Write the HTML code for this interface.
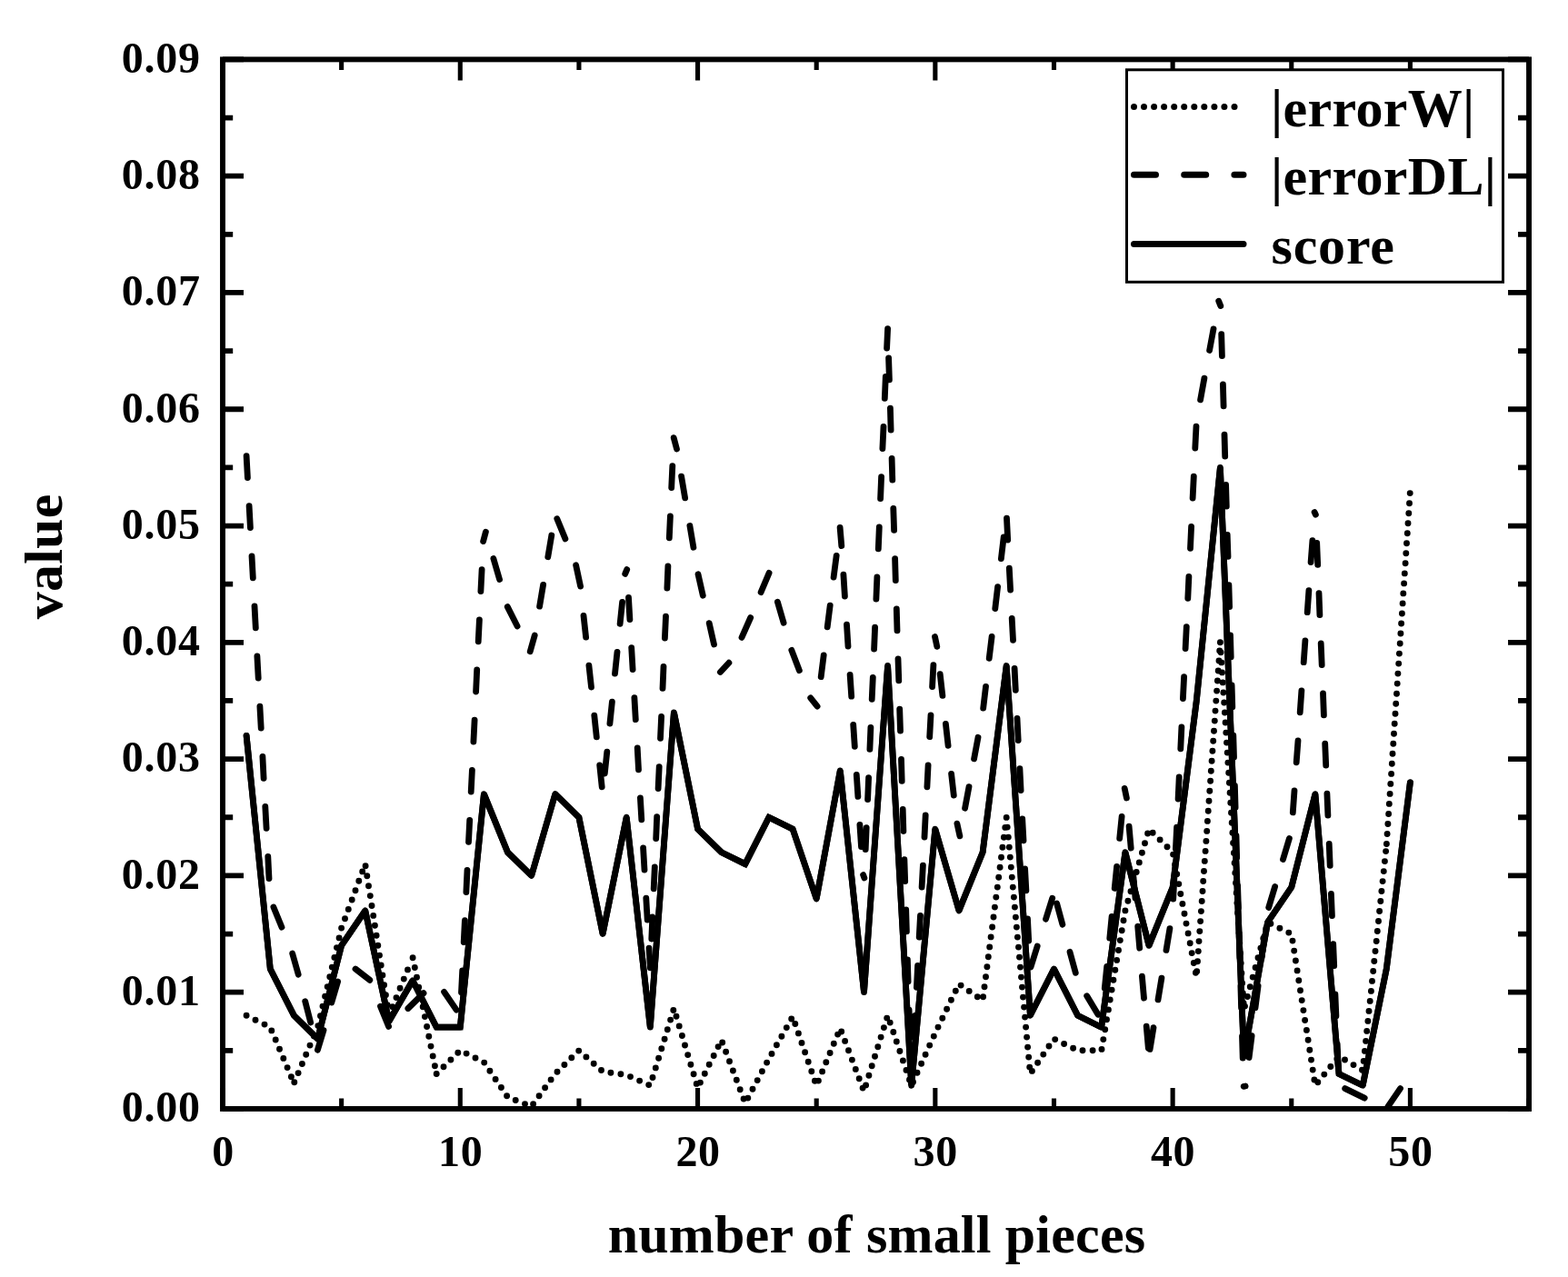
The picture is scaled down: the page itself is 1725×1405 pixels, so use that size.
<!DOCTYPE html>
<html lang="en">
<head>
<meta charset="utf-8">
<title>value vs number of small pieces</title>
<style>
html,body{margin:0;padding:0;background:#fff;}
body{width:1725px;height:1405px;overflow:hidden;font-family:"Liberation Serif","Times New Roman",Times,serif;}
svg{display:block;}
</style>
</head>
<body>
<svg width="1725" height="1405" viewBox="0 0 1725 1405">
<rect x="0" y="0" width="1725" height="1405" fill="#fff"/>
<defs><clipPath id="plotclip"><rect x="245.0" y="65.4" width="1437.05" height="1154.55"/></clipPath></defs>
<g clip-path="url(#plotclip)" fill="none" stroke="#000">
<path d="M271.1 1117.3h.01M281.0 1122.2h.01M291.0 1127.1h.01M298.8 1133.9h.01M303.2 1144.0h.01M307.5 1154.2h.01M311.8 1164.4h.01M316.1 1174.6h.01M320.4 1184.7h.01M323.8 1190.8h.01M328.1 1180.6h.01M332.4 1170.5h.01M336.7 1160.3h.01M341.0 1150.1h.01M345.4 1139.9h.01M349.9 1128.6h.01M352.5 1117.8h.01M355.0 1107.1h.01M357.6 1096.3h.01M360.2 1085.6h.01M362.8 1074.8h.01M365.3 1064.1h.01M367.9 1053.4h.01M370.5 1042.6h.01M373.1 1031.9h.01M375.6 1021.1h.01M379.5 1010.8h.01M383.3 1000.4h.01M387.2 990.0h.01M391.0 979.7h.01M394.8 969.3h.01M398.7 958.9h.01M402.1 952.8h.01M403.8 963.7h.01M405.5 974.7h.01M407.3 985.6h.01M409.0 996.5h.01M410.7 1007.4h.01M412.4 1018.3h.01M414.1 1029.2h.01M415.8 1040.2h.01M417.5 1051.1h.01M419.2 1062.0h.01M420.9 1072.9h.01M422.6 1083.8h.01M424.4 1094.7h.01M426.1 1105.7h.01M427.8 1116.6h.01M431.8 1107.8h.01M436.0 1097.6h.01M440.1 1087.3h.01M444.3 1077.1h.01M448.5 1066.9h.01M454.1 1053.7h.01M456.3 1064.5h.01M458.5 1075.3h.01M460.7 1086.2h.01M462.9 1097.0h.01M465.2 1107.8h.01M467.4 1118.6h.01M469.6 1129.5h.01M471.8 1140.3h.01M474.0 1151.1h.01M476.2 1161.9h.01M478.4 1172.8h.01M480.2 1181.5h.01M488.0 1173.7h.01M495.9 1166.0h.01M503.8 1158.2h.01M513.1 1159.1h.01M523.0 1164.0h.01M532.7 1169.1h.01M538.9 1178.3h.01M545.1 1187.4h.01M551.4 1196.5h.01M557.6 1205.7h.01M567.2 1210.5h.01M577.5 1214.6h.01M586.6 1214.7h.01M593.1 1205.8h.01M599.6 1196.8h.01M606.1 1187.9h.01M613.0 1179.3h.01M620.9 1171.5h.01M628.8 1163.8h.01M636.7 1156.1h.01M644.9 1162.9h.01M653.2 1170.2h.01M661.5 1177.5h.01M671.9 1180.2h.01M682.9 1181.8h.01M693.5 1184.6h.01M703.6 1189.1h.01M713.7 1193.6h.01M718.0 1185.5h.01M721.3 1174.9h.01M724.6 1164.3h.01M727.8 1153.8h.01M731.1 1143.2h.01M734.3 1132.7h.01M737.6 1122.1h.01M740.8 1111.5h.01M744.0 1118.3h.01M747.2 1128.9h.01M750.4 1139.5h.01M753.5 1150.0h.01M756.7 1160.6h.01M759.9 1171.2h.01M763.1 1181.8h.01M766.2 1192.4h.01M770.4 1191.1h.01M775.3 1181.2h.01M780.2 1171.3h.01M785.2 1161.5h.01M790.1 1151.6h.01M794.7 1147.0h.01M798.6 1157.3h.01M802.5 1167.7h.01M806.4 1178.0h.01M810.3 1188.3h.01M814.2 1198.7h.01M818.1 1209.0h.01M822.8 1208.1h.01M828.0 1198.3h.01M833.2 1188.6h.01M838.4 1178.8h.01M843.6 1169.1h.01M849.0 1159.4h.01M854.4 1149.8h.01M859.9 1140.2h.01M865.3 1130.6h.01M870.7 1121.0h.01M874.8 1126.5h.01M878.4 1136.9h.01M882.0 1147.4h.01M885.6 1157.8h.01M889.2 1168.3h.01M892.8 1178.7h.01M896.4 1189.2h.01M900.4 1189.1h.01M904.6 1178.9h.01M908.8 1168.7h.01M913.1 1158.5h.01M917.3 1148.3h.01M921.6 1138.1h.01M925.7 1135.0h.01M929.6 1145.4h.01M933.5 1155.7h.01M937.4 1166.1h.01M941.3 1176.4h.01M945.2 1186.7h.01M949.1 1197.1h.01M952.6 1193.9h.01M955.9 1183.3h.01M959.2 1172.8h.01M962.5 1162.2h.01M965.8 1151.7h.01M969.1 1141.1h.01M972.4 1130.6h.01M975.7 1120.1h.01M979.2 1125.1h.01M982.8 1135.5h.01M986.3 1146.0h.01M989.9 1156.5h.01M993.4 1166.9h.01M997.0 1177.4h.01M1000.5 1187.9h.01M1004.5 1190.4h.01M1009.0 1180.3h.01M1013.6 1170.3h.01M1018.1 1160.2h.01M1022.7 1150.1h.01M1027.3 1140.1h.01M1032.0 1130.1h.01M1036.8 1120.2h.01M1041.6 1110.2h.01M1046.4 1100.3h.01M1051.3 1090.3h.01M1057.1 1084.1h.01M1066.2 1090.4h.01M1075.3 1096.7h.01M1081.6 1096.7h.01M1083.0 1085.7h.01M1084.5 1074.8h.01M1085.9 1063.8h.01M1087.3 1052.8h.01M1088.7 1041.9h.01M1090.1 1030.9h.01M1091.6 1020.0h.01M1093.0 1009.0h.01M1094.4 998.1h.01M1095.8 987.1h.01M1097.3 976.1h.01M1098.7 965.2h.01M1100.1 954.2h.01M1101.5 943.3h.01M1102.9 932.3h.01M1104.4 921.3h.01M1105.8 910.4h.01M1107.2 899.4h.01M1108.2 910.1h.01M1109.3 921.1h.01M1110.3 932.1h.01M1111.3 943.1h.01M1112.3 954.1h.01M1113.3 965.1h.01M1114.3 976.1h.01M1115.4 987.1h.01M1116.4 998.1h.01M1117.4 1009.1h.01M1118.4 1020.1h.01M1119.4 1031.1h.01M1120.5 1042.1h.01M1121.5 1053.1h.01M1122.5 1064.1h.01M1123.5 1075.1h.01M1124.5 1086.1h.01M1125.5 1097.1h.01M1126.6 1108.1h.01M1127.6 1119.1h.01M1128.6 1130.1h.01M1129.6 1141.1h.01M1130.6 1152.1h.01M1131.7 1163.1h.01M1132.7 1174.1h.01M1135.4 1178.4h.01M1141.6 1169.3h.01M1147.8 1160.1h.01M1154.0 1151.0h.01M1160.7 1143.6h.01M1170.6 1148.5h.01M1180.6 1153.3h.01M1191.0 1155.8h.01M1202.1 1155.8h.01M1212.0 1154.4h.01M1213.8 1143.6h.01M1215.7 1132.7h.01M1217.5 1121.8h.01M1219.4 1110.9h.01M1221.2 1100.0h.01M1223.1 1089.1h.01M1224.9 1078.2h.01M1226.8 1067.3h.01M1228.6 1056.4h.01M1230.5 1045.5h.01M1232.3 1034.6h.01M1234.2 1023.7h.01M1236.0 1012.8h.01M1237.9 1001.9h.01M1240.9 991.3h.01M1244.0 980.7h.01M1247.1 970.1h.01M1250.2 959.5h.01M1253.3 948.9h.01M1256.4 938.3h.01M1259.5 927.7h.01M1262.6 917.0h.01M1268.2 916.2h.01M1276.1 923.9h.01M1284.0 931.7h.01M1290.6 940.1h.01M1292.6 950.9h.01M1294.7 961.8h.01M1296.8 972.6h.01M1298.8 983.5h.01M1300.9 994.4h.01M1303.0 1005.2h.01M1305.0 1016.1h.01M1307.1 1026.9h.01M1309.2 1037.8h.01M1311.2 1048.6h.01M1313.3 1059.5h.01M1315.4 1070.3h.01M1316.7 1068.7h.01M1317.5 1057.7h.01M1318.3 1046.6h.01M1319.0 1035.6h.01M1319.8 1024.6h.01M1320.6 1013.6h.01M1321.4 1002.6h.01M1322.2 991.5h.01M1323.0 980.5h.01M1323.7 969.5h.01M1324.5 958.5h.01M1325.3 947.4h.01M1326.1 936.4h.01M1326.9 925.4h.01M1327.7 914.4h.01M1328.4 903.4h.01M1329.2 892.3h.01M1330.0 881.3h.01M1330.8 870.3h.01M1331.6 859.3h.01M1332.3 848.2h.01M1333.1 837.2h.01M1333.9 826.2h.01M1334.7 815.2h.01M1335.5 804.2h.01M1336.3 793.1h.01M1337.0 782.1h.01M1337.8 771.1h.01M1338.6 760.1h.01M1339.4 749.0h.01M1340.2 738.0h.01M1341.0 727.0h.01M1341.7 716.0h.01M1342.4 706.8h.01M1343.1 717.8h.01M1343.8 728.9h.01M1344.5 739.9h.01M1345.2 750.9h.01M1345.9 762.0h.01M1346.7 773.0h.01M1347.4 784.0h.01M1348.1 795.0h.01M1348.8 806.1h.01M1349.5 817.1h.01M1350.2 828.1h.01M1350.9 839.1h.01M1351.7 850.2h.01M1352.4 861.2h.01M1353.1 872.2h.01M1353.8 883.2h.01M1354.5 894.3h.01M1355.2 905.3h.01M1355.9 916.3h.01M1356.6 927.4h.01M1357.4 938.4h.01M1358.1 949.4h.01M1358.8 960.4h.01M1359.5 971.5h.01M1360.2 982.5h.01M1360.9 993.5h.01M1361.6 1004.5h.01M1362.3 1015.6h.01M1363.1 1026.6h.01M1363.8 1037.6h.01M1364.5 1048.7h.01M1365.2 1059.7h.01M1365.9 1070.7h.01M1366.6 1081.7h.01M1367.3 1092.8h.01M1368.1 1103.8h.01M1369.5 1107.1h.01M1372.4 1096.5h.01M1375.3 1085.8h.01M1378.2 1075.1h.01M1381.1 1064.5h.01M1384.0 1053.8h.01M1386.9 1043.1h.01M1389.8 1032.5h.01M1392.7 1021.8h.01M1397.9 1016.3h.01M1407.9 1021.2h.01M1417.8 1026.1h.01M1422.0 1035.1h.01M1423.7 1046.1h.01M1425.4 1057.0h.01M1427.1 1067.9h.01M1428.8 1078.8h.01M1430.5 1089.7h.01M1432.2 1100.6h.01M1433.9 1111.6h.01M1435.6 1122.5h.01M1437.4 1133.4h.01M1439.1 1144.3h.01M1440.8 1155.2h.01M1442.5 1166.1h.01M1444.2 1177.1h.01M1445.9 1188.0h.01M1449.8 1190.7h.01M1456.8 1182.1h.01M1463.8 1173.5h.01M1470.8 1165.0h.01M1479.5 1166.0h.01M1489.0 1171.6h.01M1498.5 1177.2h.01M1500.2 1167.4h.01M1501.4 1156.4h.01M1502.6 1145.4h.01M1503.7 1134.4h.01M1504.9 1123.4h.01M1506.0 1112.4h.01M1507.2 1101.4h.01M1508.4 1090.4h.01M1509.5 1079.4h.01M1510.7 1068.5h.01M1511.8 1057.5h.01M1513.0 1046.5h.01M1514.2 1035.5h.01M1515.3 1024.5h.01M1516.5 1013.5h.01M1517.6 1002.5h.01M1518.8 991.5h.01M1519.9 980.5h.01M1521.1 969.6h.01M1522.3 958.6h.01M1523.4 947.6h.01M1524.6 936.6h.01M1525.4 928.5h.01M1526.1 917.5h.01M1526.9 906.5h.01M1527.6 895.5h.01M1528.3 884.4h.01M1529.1 873.4h.01M1529.8 862.4h.01M1530.6 851.4h.01M1531.3 840.3h.01M1532.0 829.3h.01M1532.8 818.3h.01M1533.5 807.3h.01M1534.2 796.2h.01M1535.0 785.2h.01M1535.7 774.2h.01M1536.5 763.2h.01M1537.2 752.1h.01M1537.9 741.1h.01M1538.7 730.1h.01M1539.4 719.1h.01M1540.2 708.0h.01M1540.9 697.0h.01M1541.6 686.0h.01M1542.4 675.0h.01M1543.1 663.9h.01M1543.8 652.9h.01M1544.6 641.9h.01M1545.3 630.9h.01M1546.1 619.8h.01M1546.8 608.8h.01M1547.5 597.8h.01M1548.3 586.7h.01M1549.0 575.7h.01M1549.8 564.7h.01M1550.5 553.7h.01M1551.2 542.6h.01" stroke-width="6.9" stroke-linecap="round"/>
<path d="M271.1 501.6L272.4 525.5M274.1 556.7L275.4 580.6M277.0 611.8L278.3 635.8M280.0 666.9L281.3 690.9M282.9 722.0L284.2 746.0M285.9 777.2L287.2 801.1M288.9 832.3L290.1 856.3M291.8 887.4L293.1 911.4M294.8 942.5L296.0 966.5M300.9 998.0L310.0 1020.2M321.7 1049.1L328.2 1072.2M335.7 1101.7L341.7 1125.0M349.4 1155.2L356.0 1133.4M364.8 1103.1L371.6 1080.1M391.0 1066.0L406.8 1078.3M418.5 1107.2L427.6 1129.4M448.9 1109.5L466.0 1092.7M488.6 1091.3L502.1 1111.1M507.5 1091.8L508.7 1067.8M510.2 1036.6L511.4 1012.7M512.9 981.5L514.0 957.5M515.5 926.4L516.7 902.4M518.2 871.2L519.4 847.3M520.9 816.1L522.1 792.1M523.6 761.0L524.7 737.0M526.2 705.8L527.4 681.9M528.9 650.7L530.1 626.7M531.6 595.6L534.4 585.2M542.9 614.6L549.6 637.6M558.3 667.6L569.1 689.0M583.2 716.8L588.2 699.1M593.6 667.1L597.6 643.4M602.8 612.7L606.8 589.0M612.8 570.7L621.9 592.9M633.6 621.8L638.6 645.1M642.0 677.3L644.6 701.2M647.9 732.2L650.5 756.0M653.8 787.1L656.3 810.9M659.7 842.0L662.2 865.8M665.3 851.0L667.8 827.2M670.9 796.1L673.4 772.2M676.5 741.2L679.0 717.3M682.1 686.3L684.6 662.4M687.7 631.4L689.7 626.6M691.5 657.5L692.9 681.5M694.7 712.6L696.1 736.6M697.9 767.7L699.3 791.7M701.2 822.8L702.5 846.8M704.4 877.9L705.8 901.9M707.6 933.0L709.0 957.0M710.8 988.1L712.2 1012.1M714.0 1043.2L715.4 1064.8M716.8 1033.0L717.8 1009.0M719.2 977.9L720.3 953.9M721.7 922.7L722.7 898.7M724.1 867.6L725.2 843.6M726.5 812.4L727.6 788.5M729.0 757.3L730.0 733.3M731.4 702.1L732.5 678.2M733.9 647.0L734.9 623.0M736.3 591.8L737.4 567.9M738.7 536.7L739.8 512.7M741.2 481.6L744.5 494.0M749.6 524.1L753.6 547.8M758.9 578.5L762.9 602.2M768.0 631.8L773.3 655.2M780.2 685.6L785.5 709.0M792.4 739.5L801.9 729.2M816.0 701.4L825.7 679.5M837.1 651.6L846.1 630.4M855.4 662.3L862.1 685.3M870.8 715.3L879.4 737.7M891.7 767.8L899.1 777.1M903.2 744.7L906.2 720.9M910.2 689.9L913.2 666.1M917.1 635.1L920.2 611.3M924.1 580.4L925.8 600.6M927.9 632.1L929.4 656.0M931.5 687.2L933.0 711.1M935.1 742.3L936.7 766.2M938.7 797.3L940.3 821.3M942.3 852.4L943.9 876.4M945.9 907.5L947.5 931.5M949.6 962.6L950.9 965.9M952.2 934.7L953.2 910.7M954.6 879.6L955.6 855.6M956.9 824.4L957.9 800.4M959.2 769.3L960.3 745.3M961.6 714.1L962.6 690.1M963.9 659.0L964.9 635.0M966.3 603.8L967.3 579.8M968.6 548.6L969.6 524.7M970.9 493.5L972.0 469.5M973.3 438.3L974.3 414.4M975.6 383.2L976.6 361.7M977.6 393.9L978.4 417.9M979.4 449.1L980.1 473.1M981.1 504.3L981.8 528.2M982.8 559.4L983.6 583.4M984.6 614.6L985.3 638.6M986.3 669.8L987.0 693.8M988.0 724.9L988.8 748.9M989.7 780.1L990.5 804.1M991.5 835.3L992.2 859.3M993.2 890.5L993.9 914.5M994.9 945.6L995.7 969.6M996.7 1000.8L997.4 1024.8M998.4 1056.0L999.1 1080.0M1000.1 1111.2L1000.9 1135.1M1001.8 1166.3L1002.6 1190.3M1003.4 1181.9L1004.6 1157.9M1005.5 1141.5L1006.7 1117.5M1008.4 1086.3L1009.6 1062.4M1011.2 1031.2L1012.5 1007.3M1014.1 976.1L1015.4 952.1M1017.0 921.0L1018.2 897.0M1019.9 865.8L1021.1 841.9M1022.7 810.7L1024.0 786.8M1025.6 755.6L1026.9 731.6M1028.5 700.5L1030.8 711.4M1034.2 741.6L1036.9 765.4M1040.4 796.4L1043.1 820.3M1046.6 851.3L1049.3 875.1M1052.9 906.1L1055.9 919.9M1061.6 889.2L1066.0 865.6M1071.6 834.9L1076.0 811.3M1081.7 779.1L1084.5 755.3M1088.2 724.3L1091.1 700.5M1094.8 669.5L1097.6 645.7M1101.4 614.7L1104.2 590.9M1107.5 570.1L1108.7 594.0M1110.3 625.2L1111.6 649.1M1113.2 680.3L1114.5 704.3M1116.1 735.4L1117.3 759.4M1119.0 790.5L1120.2 814.5M1121.9 845.7L1123.1 869.6M1124.7 900.8L1126.0 924.8M1127.6 955.9L1128.9 979.9M1130.5 1011.0L1131.7 1035.0M1134.0 1063.9L1141.2 1041.0M1150.5 1011.2L1157.7 988.3M1162.6 994.0L1168.9 1017.2M1177.0 1047.3L1183.3 1070.4M1195.7 1095.7L1208.0 1116.3M1215.3 1087.2L1217.7 1063.3M1220.8 1032.2L1223.1 1008.3M1226.2 977.3L1228.6 953.4M1231.7 922.4L1234.1 898.5M1237.2 867.4L1239.4 878.0M1242.1 909.2L1244.2 933.1M1246.9 964.2L1249.0 988.1M1251.7 1019.2L1253.7 1043.1M1256.4 1074.2L1258.5 1098.1M1261.2 1129.2L1263.3 1153.1M1265.1 1154.4L1269.0 1130.7M1274.0 1099.9L1277.9 1076.2M1283.0 1045.4L1286.9 1021.7M1290.7 989.2L1291.9 965.3M1293.4 934.1L1294.6 910.1M1296.1 879.0L1297.2 855.0M1298.8 823.8L1299.9 799.9M1301.4 768.7L1302.6 744.7M1304.1 713.6L1305.3 689.6M1306.8 658.4L1307.9 634.5M1309.5 603.3L1310.6 579.3M1312.1 548.2L1313.3 524.2M1314.8 493.0L1316.0 469.1M1320.6 439.8L1324.9 416.2M1330.6 385.5L1335.0 361.9M1340.7 331.2L1342.8 336.5M1343.7 367.7L1344.4 391.7M1345.4 422.9L1346.1 446.9M1347.0 478.1L1347.7 502.1M1348.6 533.3L1349.3 557.2M1350.2 588.4L1351.0 612.4M1351.9 643.6L1352.6 667.6M1353.5 698.8L1354.2 722.8M1355.1 754.0L1355.8 777.9M1356.8 809.1L1357.5 833.1M1358.4 864.3L1359.1 888.3M1360.0 919.5L1360.7 943.5M1361.6 974.7L1362.4 998.6M1363.3 1029.8L1364.0 1053.8M1364.9 1085.0L1365.6 1109.0M1366.5 1140.2L1367.2 1164.2M1368.2 1195.4L1370.1 1195.0M1374.1 1163.5L1377.1 1139.7M1381.0 1108.7L1384.1 1084.9M1388.0 1054.0L1391.0 1030.1M1395.7 998.4L1402.6 975.4M1411.5 945.5L1418.4 922.5M1422.3 893.9L1424.0 869.9M1426.2 838.8L1428.0 814.9M1430.2 783.8L1431.9 759.8M1434.2 728.7L1435.9 704.8M1438.2 673.7L1439.9 649.7M1442.1 618.6L1443.9 594.7M1446.1 563.5L1447.4 566.2M1448.7 597.4L1449.7 621.4M1451.0 652.6L1451.9 676.6M1453.2 707.8L1454.2 731.7M1455.5 762.9L1456.4 786.9M1457.7 818.1L1458.7 842.0M1459.9 873.2L1460.9 897.2M1462.2 928.4L1463.2 952.4M1464.4 983.5L1465.4 1007.5M1466.7 1038.7L1467.7 1062.7M1468.9 1093.8L1469.9 1117.8M1471.2 1149.0L1472.2 1173.0M1479.7 1197.6L1501.2 1208.1M1527.0 1217.4L1540.5 1197.6" stroke-width="6.8" stroke-linecap="round"/>
<path d="M271.1 809.4L297.3 1066.0L323.4 1117.3L349.5 1143.0L375.6 1040.4L401.8 1001.9L427.9 1123.7L454.0 1078.8L480.2 1130.2L506.3 1130.2L532.4 873.6L558.5 937.7L584.7 963.4L610.8 873.6L636.9 899.2L663.1 1027.5L689.2 899.2L715.3 1130.2L741.4 783.8L767.6 912.1L793.7 937.7L819.8 950.6L845.9 899.2L872.1 912.1L898.2 989.0L924.3 847.9L950.5 1091.7L976.6 732.5L1002.7 1194.3L1028.8 912.1L1055.0 1001.9L1081.1 937.7L1107.2 732.5L1133.4 1117.3L1159.5 1066.0L1185.6 1117.3L1211.7 1130.2L1237.9 937.7L1264.0 1040.4L1290.1 976.2L1316.3 771.0L1342.4 514.4L1368.5 1162.2L1394.6 1014.7L1420.8 976.2L1446.9 873.6L1473.0 1181.5L1499.2 1194.3L1525.3 1066.0L1551.4 860.8" stroke-width="6.8" stroke-linejoin="round" stroke-linecap="round"/>
<path d="M271.1 809.4L297.3 1066.0L323.4 1117.3L349.5 1143.0L375.6 1040.4L401.8 1001.9L427.9 1123.7L454.0 1078.8L480.2 1130.2L506.3 1130.2L532.4 873.6L558.5 937.7L584.7 963.4L610.8 873.6L636.9 899.2L663.1 1027.5L689.2 899.2L715.3 1130.2L741.4 783.8L767.6 912.1L793.7 937.7L819.8 950.6L845.9 899.2L872.1 912.1L898.2 989.0L924.3 847.9L950.5 1091.7L976.6 732.5L1002.7 1194.3L1028.8 912.1L1055.0 1001.9L1081.1 937.7L1107.2 732.5L1133.4 1117.3L1159.5 1066.0L1185.6 1117.3L1211.7 1130.2L1237.9 937.7L1264.0 1040.4L1290.1 976.2L1316.3 771.0L1342.4 514.4L1368.5 1162.2L1394.6 1014.7L1420.8 976.2L1446.9 873.6L1473.0 1181.5L1499.2 1194.3L1525.3 1066.0L1551.4 860.8" stroke-width="6.8" stroke-linejoin="miter" stroke-miterlimit="1.6" stroke-linecap="round"/>
</g>
<path d="M245.00 1219.95V1196.95M245.00 65.4V88.4M375.64 1219.95V1208.45M375.64 65.4V76.9M506.28 1219.95V1196.95M506.28 65.4V88.4M636.92 1219.95V1208.45M636.92 65.4V76.9M767.56 1219.95V1196.95M767.56 65.4V88.4M898.20 1219.95V1208.45M898.20 65.4V76.9M1028.85 1219.95V1196.95M1028.85 65.4V88.4M1159.49 1219.95V1208.45M1159.49 65.4V76.9M1290.13 1219.95V1196.95M1290.13 65.4V88.4M1420.77 1219.95V1208.45M1420.77 65.4V76.9M1551.41 1219.95V1196.95M1551.41 65.4V88.4M1682.05 1219.95V1208.45M1682.05 65.4V76.9" stroke="#000" stroke-width="5.1" fill="none"/>
<path d="M245.0 1219.95H268.0M1682.05 1219.95H1659.05M245.0 1155.81H256.2M1682.05 1155.81H1670.05M245.0 1091.67H268.0M1682.05 1091.67H1659.05M245.0 1027.53H256.2M1682.05 1027.53H1670.05M245.0 963.38H268.0M1682.05 963.38H1659.05M245.0 899.24H256.2M1682.05 899.24H1670.05M245.0 835.10H268.0M1682.05 835.10H1659.05M245.0 770.96H256.2M1682.05 770.96H1670.05M245.0 706.82H268.0M1682.05 706.82H1659.05M245.0 642.68H256.2M1682.05 642.68H1670.05M245.0 578.53H268.0M1682.05 578.53H1659.05M245.0 514.39H256.2M1682.05 514.39H1670.05M245.0 450.25H268.0M1682.05 450.25H1659.05M245.0 386.11H256.2M1682.05 386.11H1670.05M245.0 321.97H268.0M1682.05 321.97H1659.05M245.0 257.83H256.2M1682.05 257.83H1670.05M245.0 193.68H268.0M1682.05 193.68H1659.05M245.0 129.54H256.2M1682.05 129.54H1670.05M245.0 65.40H268.0M1682.05 65.40H1659.05" stroke="#000" stroke-width="5.8" fill="none"/>
<rect x="245.0" y="65.4" width="1437.05" height="1154.55" fill="none" stroke="#000" stroke-width="5.9"/>
<g font-family="'Liberation Serif', 'Times New Roman', Times, serif" font-weight="bold" fill="#000" font-size="48">
<text x="220.6" y="1234.2" text-anchor="end" letter-spacing="0.7">0.00</text>
<text x="220.6" y="1106.0" text-anchor="end" letter-spacing="0.7">0.01</text>
<text x="220.6" y="977.7" text-anchor="end" letter-spacing="0.7">0.02</text>
<text x="220.6" y="849.4" text-anchor="end" letter-spacing="0.7">0.03</text>
<text x="220.6" y="721.1" text-anchor="end" letter-spacing="0.7">0.04</text>
<text x="220.6" y="592.8" text-anchor="end" letter-spacing="0.7">0.05</text>
<text x="220.6" y="464.6" text-anchor="end" letter-spacing="0.7">0.06</text>
<text x="220.6" y="336.3" text-anchor="end" letter-spacing="0.7">0.07</text>
<text x="220.6" y="208.0" text-anchor="end" letter-spacing="0.7">0.08</text>
<text x="220.6" y="79.7" text-anchor="end" letter-spacing="0.7">0.09</text>
<text x="245.5" y="1283" text-anchor="middle" letter-spacing="0.7">0</text>
<text x="506.8" y="1283" text-anchor="middle" letter-spacing="0.7">10</text>
<text x="768.1" y="1283" text-anchor="middle" letter-spacing="0.7">20</text>
<text x="1029.3" y="1283" text-anchor="middle" letter-spacing="0.7">30</text>
<text x="1290.6" y="1283" text-anchor="middle" letter-spacing="0.7">40</text>
<text x="1551.9" y="1283" text-anchor="middle" letter-spacing="0.7">50</text>
</g>
<g font-family="'Liberation Serif', 'Times New Roman', Times, serif" font-weight="bold" fill="#000" font-size="60">
<text x="964.5" y="1378" text-anchor="middle" letter-spacing="0.2">number of small pieces</text>
<text transform="translate(67.6 612.4) rotate(-90)" text-anchor="middle" letter-spacing="0.25">value</text>
</g>
<rect x="1239.5" y="76.8" width="414.0" height="233.5" fill="#fff" stroke="#000" stroke-width="3"/>
<g fill="#000">
<circle cx="1247.5" cy="117.4" r="3.5"/>
<circle cx="1258.5" cy="117.4" r="3.5"/>
<circle cx="1269.6" cy="117.4" r="3.5"/>
<circle cx="1280.6" cy="117.4" r="3.5"/>
<circle cx="1291.7" cy="117.4" r="3.5"/>
<circle cx="1302.7" cy="117.4" r="3.5"/>
<circle cx="1313.8" cy="117.4" r="3.5"/>
<circle cx="1324.8" cy="117.4" r="3.5"/>
<circle cx="1335.9" cy="117.4" r="3.5"/>
<circle cx="1346.9" cy="117.4" r="3.5"/>
<circle cx="1358.0" cy="117.4" r="3.5"/>
</g>
<path d="M1247.5 192.3H1271.5M1302.7 192.3H1326.7M1357.9 192.3H1368.0" stroke="#000" stroke-width="7.0" stroke-linecap="round" fill="none"/>
<path d="M1247.5 268.5H1368.0" stroke="#000" stroke-width="7.0" stroke-linecap="round" fill="none"/>
<g font-family="'Liberation Serif', 'Times New Roman', Times, serif" font-weight="bold" fill="#000" font-size="60">
<text x="1398" y="139.4" letter-spacing="0.35">|errorW|</text>
<text x="1398" y="214.0" letter-spacing="0.35">|errorDL|</text>
<text x="1398.5" y="289.9" letter-spacing="0.8">score</text>
</g>
</svg>
</body>
</html>
